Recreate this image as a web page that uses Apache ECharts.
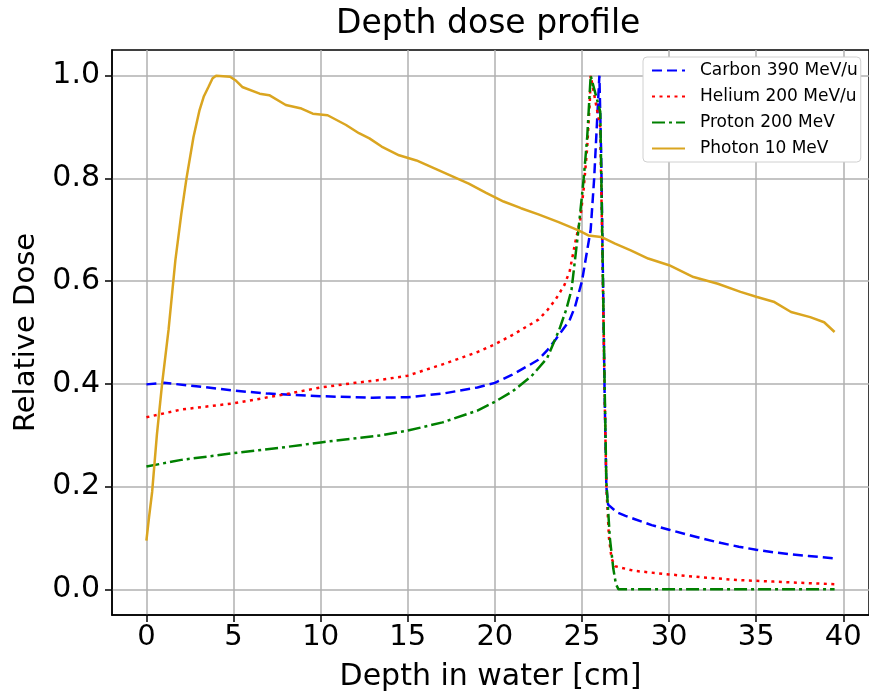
<!DOCTYPE html>
<html>
<head>
<meta charset="utf-8">
<script src="https://cdn.jsdelivr.net/npm/echarts@6/dist/echarts.min.js"></script>
<style>html,body{margin:0;padding:0;background:#fff}#c{width:869px;height:699px}</style>
</head>
<body>
<div id="c"></div>
<script>
const xTicks = [0, 5, 10, 15, 20, 25, 30, 35, 40];
const yTicks = [0, 0.2, 0.4, 0.6, 0.8, 1.0];
const seriesNames = ['Carbon 390 MeV/u', 'Helium 200 MeV/u', 'Proton 200 MeV', 'Photon 10 MeV'];

const carbon = [[0,0.399],[1,0.402],[3,0.395],[5,0.387],[7,0.381],[10,0.376],[13,0.373],[15,0.374],[17,0.381],[19,0.393],[20,0.402],[21,0.418],[22,0.437],[22.5,0.447],[23,0.465],[23.5,0.487],[24,0.51],[24.3,0.525],[24.6,0.55],[25,0.60],[25.3,0.66],[25.5,0.70],[25.7,0.80],[25.85,0.90],[26.0,1.0],[26.1,0.85],[26.2,0.62],[26.3,0.38],[26.4,0.2],[26.5,0.165],[27,0.15],[27.5,0.143],[28,0.137],[29,0.125],[30,0.116],[31,0.107],[32,0.098],[33,0.09],[34,0.083],[35,0.077],[36,0.072],[37,0.068],[38,0.065],[39.5,0.06]];

const helium = [[0,0.335],[2,0.35],[5,0.362],[8,0.38],[10,0.393],[12,0.402],[13.5,0.408],[15,0.416],[17,0.438],[19,0.462],[20,0.477],[21,0.495],[22,0.515],[22.5,0.525],[23,0.543],[23.5,0.565],[24,0.593],[24.3,0.62],[24.6,0.673],[24.9,0.72],[25.1,0.78],[25.3,0.86],[25.45,0.95],[25.5,1.0],[26.05,0.9],[26.15,0.7],[26.3,0.38],[26.4,0.2],[26.55,0.1],[26.7,0.06],[26.9,0.045],[27.5,0.04],[28,0.036],[30,0.029],[32,0.023],[34,0.018],[36,0.015],[38,0.012],[39.5,0.01]];

const proton = [[0,0.239],[2,0.252],[5,0.265],[8,0.277],[10,0.286],[13.5,0.30],[15,0.309],[17,0.325],[19,0.348],[20,0.365],[21,0.385],[22.1,0.415],[23,0.45],[23.7,0.506],[24.1,0.545],[24.4,0.583],[24.8,0.70],[25.1,0.80],[25.3,0.88],[25.5,1.0],[26.05,0.93],[26.15,0.72],[26.3,0.4],[26.4,0.21],[26.6,0.1],[26.8,0.04],[26.95,0.01],[27.1,0],[30,0],[35,0],[39.5,0]];

const photon = [[0,0.095],[0.15,0.14],[0.33,0.19],[0.6,0.30],[0.9,0.40],[1.27,0.505],[1.66,0.64],[2.0,0.73],[2.3,0.80],[2.7,0.88],[3.05,0.933],[3.3,0.96],[3.56,0.978],[3.8,0.995],[4.0,1.0],[4.8,0.998],[5.15,0.99],[5.5,0.978],[6.5,0.965],[7.05,0.962],[8.0,0.943],[8.9,0.936],[9.55,0.926],[10.4,0.923],[11.46,0.904],[12.2,0.888],[12.8,0.878],[13.5,0.862],[14.5,0.845],[15.5,0.835],[16.5,0.82],[17.5,0.805],[18.5,0.79],[19.5,0.772],[20.5,0.755],[21.5,0.742],[22.5,0.73],[23.66,0.715],[24.8,0.699],[25.37,0.689],[26.1,0.686],[26.9,0.673],[27.8,0.66],[28.8,0.644],[30.0,0.631],[31.4,0.608],[32.8,0.595],[34.1,0.579],[35.05,0.569],[36.0,0.56],[37.0,0.54],[38.1,0.53],[38.9,0.52],[39.5,0.501]];

const FONT = 'DejaVu Sans';
const chart = echarts.init(document.getElementById('c'), null, {renderer: 'canvas'});

function mkSeries(name, data, color, type, z) {
  return {
    name: name, type: 'line', data: data, symbol: 'none', smooth: false, z: z,
    lineStyle: {color: color, width: 2.5, type: type, cap: 'butt'},
    itemStyle: {color: color},
    emphasis: {disabled: true}, animation: false
  };
}

chart.setOption({
  animation: false,
  backgroundColor: '#fff',
  title: {
    text: 'Depth dose profile', left: 331, top: 3,
    textStyle: {fontFamily: FONT, fontSize: 33, fontWeight: 'normal', color: '#000'}
  },
  grid: {left: 112, top: 50, width: 760, height: 565, show: true, borderColor: '#000', borderWidth: 1.5, backgroundColor: 'transparent'},
  legend: {
    orient: 'vertical', left: 643, top: 57,
    data: seriesNames,
    itemWidth: 33, itemHeight: 14, itemGap: 9,
    backgroundColor: '#fff', borderColor: '#d0d0d0', borderWidth: 1, borderRadius: 4,
    padding: [5, 3, 5, 8],
    itemStyle: {opacity: 0, color: 'transparent', borderColor: 'transparent', borderWidth: 0},
    textStyle: {fontFamily: FONT, fontSize: 17, color: '#000', padding: [0, 0, 0, 10]}
  },
  xAxis: {
    type: 'value', min: -1.975, max: 41.475,
    name: 'Depth in water [cm]', nameLocation: 'middle', nameGap: 47,
    nameTextStyle: {fontFamily: FONT, fontSize: 30, color: '#000'},
    axisLine: {show: true, onZero: false, lineStyle: {color: '#000', width: 1.5}},
    axisTick: {show: true, inside: false, length: 7, customValues: xTicks, lineStyle: {color: '#000', width: 1.5}},
    axisLabel: {customValues: xTicks, margin: 8, fontFamily: FONT, fontSize: 29, color: '#000', formatter: v => String(v)},
    splitLine: {show: true, lineStyle: {color: '#b0b0b0', width: 1.5}}
  },
  yAxis: {
    type: 'value', min: -0.05, max: 1.05,
    name: 'Relative Dose', nameLocation: 'middle', nameGap: 68, nameRotate: 90,
    nameTextStyle: {fontFamily: FONT, fontSize: 29, color: '#000'},
    axisLine: {show: true, onZero: false, lineStyle: {color: '#000', width: 1.5}},
    axisTick: {show: true, inside: false, length: 7, customValues: yTicks, lineStyle: {color: '#000', width: 1.5}},
    axisLabel: {customValues: yTicks, margin: 12, fontFamily: FONT, fontSize: 30, color: '#000', formatter: v => v.toFixed(1)},
    splitLine: {show: true, lineStyle: {color: '#b0b0b0', width: 1.5}}
  },
  series: [
    mkSeries(seriesNames[0], carbon, '#0000ff', [10, 5], 3),
    mkSeries(seriesNames[1], helium, '#ff0000', [3, 4.5], 4),
    mkSeries(seriesNames[2], proton, '#008000', [13, 4, 3, 4], 5),
    mkSeries(seriesNames[3], photon, '#daa520', 'solid', 6)
  ]
});
</script>
</body>
</html>
